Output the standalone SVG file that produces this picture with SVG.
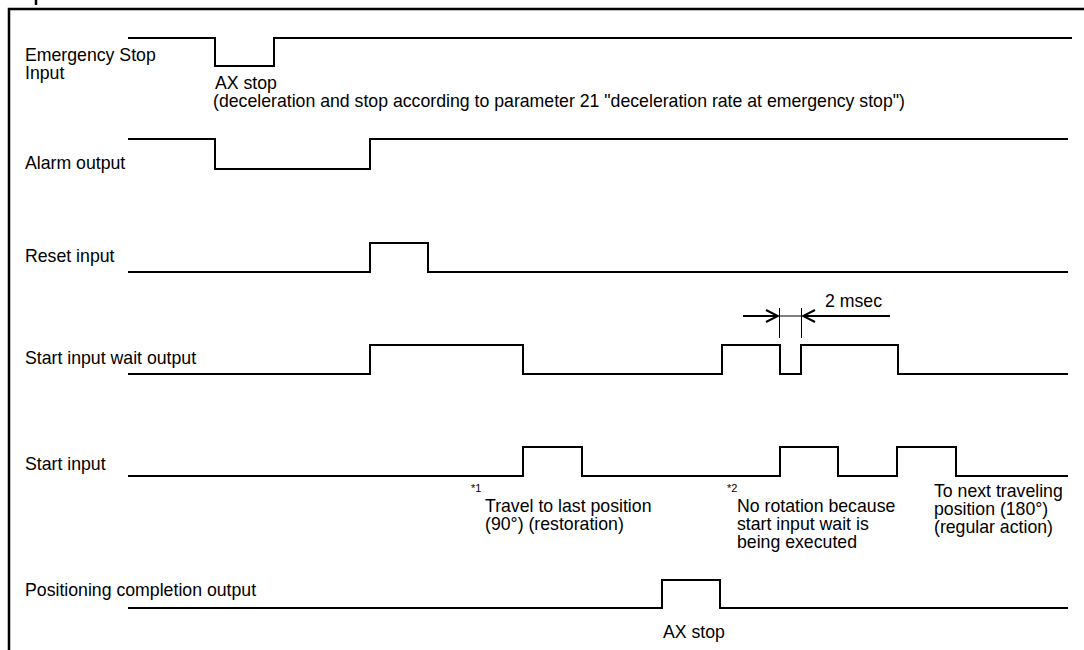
<svg xmlns="http://www.w3.org/2000/svg" width="1084" height="650" viewBox="0 0 1084 650">
<style>
text{font-family:"Liberation Sans",Arial,sans-serif;font-size:17.7px;fill:#000}
.sm{font-size:11px}
.sig{fill:none;stroke:#000;stroke-width:2;stroke-linejoin:miter}
.dim{fill:none;stroke:#000;stroke-width:1}
.arr{fill:none;stroke:#000;stroke-width:2}
</style>
<defs>
<marker id="ah" viewBox="0 0 14 14" refX="13" refY="7" markerWidth="14" markerHeight="14" markerUnits="userSpaceOnUse" orient="auto">
<path d="M1,1 L13,7 L1,13" fill="none" stroke="#000" stroke-width="2"/>
</marker>
</defs>
<rect width="1084" height="650" fill="#fff"/>
<g id="frame">
<path d="M9,660 V9 H1090" fill="none" stroke="#000" stroke-width="2.5"/>
<line x1="36" y1="0" x2="36" y2="5" stroke="#000" stroke-width="2.5"/>
</g>
<g id="connectors">
<path class="sig" d="M128,38 H215 V66 H274 V38 H1072"/>
<path class="sig" d="M128,139 H215 V169 H370 V139 H1068"/>
<path class="sig" d="M128,272 H370 V243 H428 V272 H1068"/>
<path class="sig" d="M128,374 H370 V345 H523 V374 H722 V345 H780 V374 H801 V345 H898 V374 H1068"/>
<path class="sig" d="M128,476 H523 V447 H582 V476 H780 V447 H838 V476 H897 V447 H956 V476 H1068"/>
<path class="sig" d="M128,608 H662 V580 H720 V608 H1068"/>
<line class="dim" x1="779.5" y1="308" x2="779.5" y2="338"/>
<line class="dim" x1="801.5" y1="308" x2="801.5" y2="338"/>
<line class="dim" x1="779.5" y1="316" x2="801.5" y2="316"/>
<line class="arr" x1="743" y1="316" x2="778" y2="316" marker-end="url(#ah)"/>
<line class="arr" x1="890" y1="316" x2="803" y2="316" marker-end="url(#ah)"/>
</g>
<g id="emergency-stop">
<text x="25" y="61">Emergency Stop</text>
<text x="25" y="79">Input</text>
<text x="215" y="89">AX stop</text>
<text x="213" y="107">(deceleration and stop according to parameter 21 "deceleration rate at emergency stop")</text>
</g>
<g id="alarm-output">
<text x="25" y="169">Alarm output</text>
</g>
<g id="reset-input">
<text x="25" y="262">Reset input</text>
</g>
<g id="start-input-wait-output">
<text x="25" y="364">Start input wait output</text>
<text x="825" y="307">2 msec</text>
</g>
<g id="start-input">
<text x="25" y="470">Start input</text>
<text class="sm" x="471" y="492">*1</text>
<text x="485" y="512">Travel to last position</text>
<text x="485" y="530">(90°) (restoration)</text>
<text class="sm" x="727" y="492">*2</text>
<text x="737" y="512">No rotation because</text>
<text x="737" y="530">start input wait is</text>
<text x="737" y="548">being executed</text>
<text x="934" y="497">To next traveling</text>
<text x="934" y="515">position (180°)</text>
<text x="934" y="533">(regular action)</text>
</g>
<g id="positioning-completion-output">
<text x="25" y="596">Positioning completion output</text>
<text x="663" y="638">AX stop</text>
</g>
</svg>
